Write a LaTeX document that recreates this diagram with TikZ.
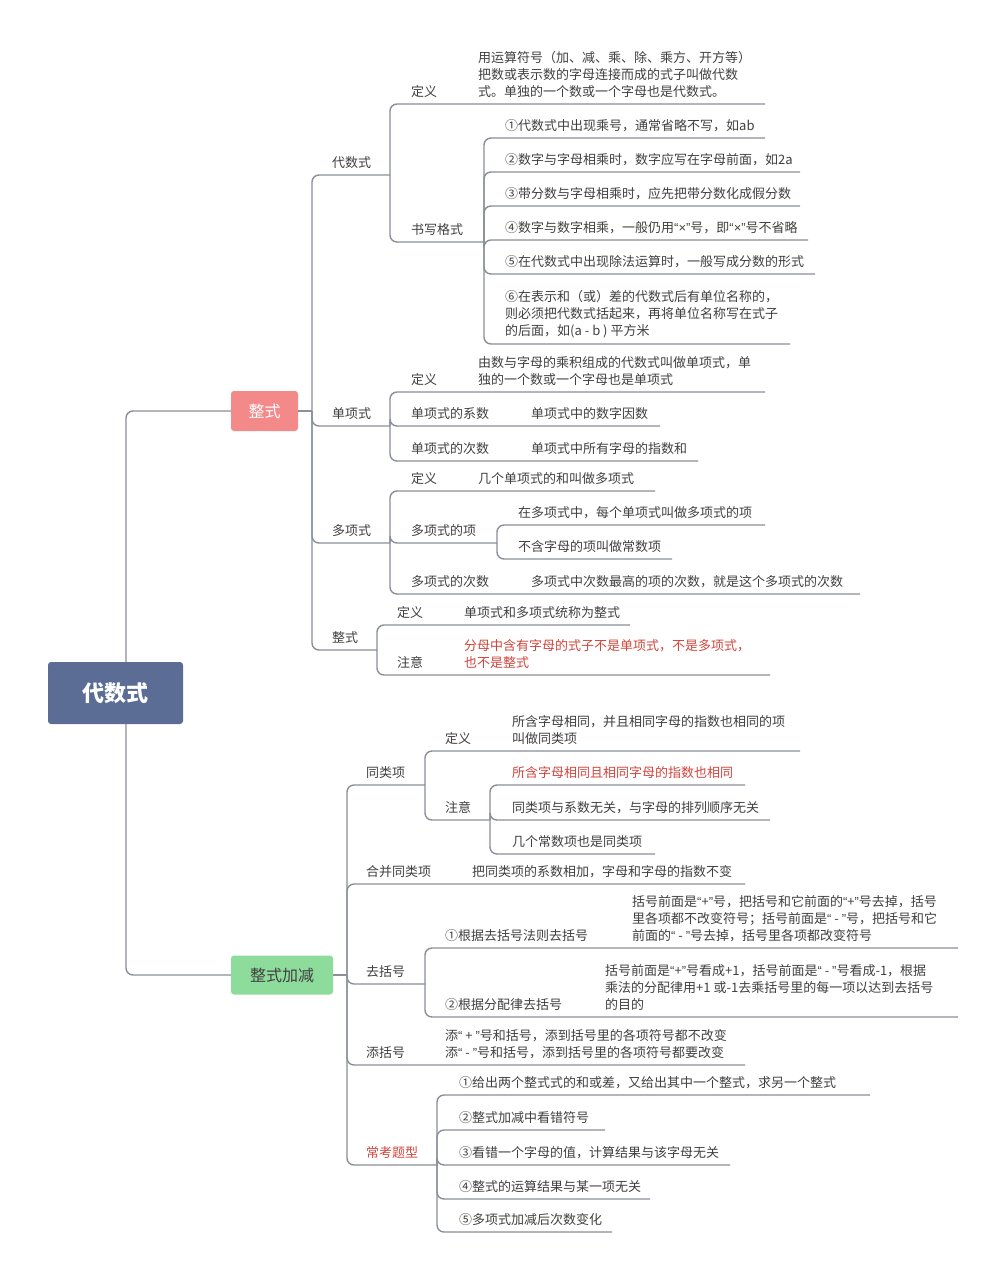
\documentclass[tikz,border=0pt]{standalone}
\usepackage{fontspec}
\setmainfont{Noto Sans CJK SC}
\newfontfamily\latfont{Liberation Sans}
\definecolor{linegray}{HTML}{8A8F99}
\definecolor{txtgray}{HTML}{404040}
\definecolor{redtxt}{HTML}{D0463C}
\definecolor{rootblue}{HTML}{5B6D95}
\definecolor{zsred}{HTML}{F4898A}
\definecolor{zsgreen}{HTML}{8EDC9B}
\newcommand\br[4]{\draw[link] (#1,#2) |- (#4,#3);}
\newcommand\oq{{\latfont “}}
\newcommand\cq{{\latfont ”}}
\begin{document}
\begin{tikzpicture}[x=1pt,y=-1pt]
\tikzset{
  link/.style={draw=linegray,line width=1.4pt,rounded corners=7pt},
  lbl/.style={anchor=south west,inner sep=0pt,yshift=6pt,align=left,
    text=txtgray,font=\fontsize{13}{17}\selectfont},
  redlbl/.style={lbl,text=redtxt},
  box/.style={rounded corners=3pt,inner sep=0pt}
}
\useasboundingbox[fill=white] (0,0) rectangle (1005,1280);
% main boxes
\node[box,fill=rootblue,minimum width=135pt,minimum height=62pt,text=white,
  font=\fontsize{22}{24}\selectfont\bfseries] (root) at (115.5,693) {代数式};
\node[box,fill=zsred,minimum width=67pt,minimum height=40pt,text=white,
  font=\fontsize{16}{18}\selectfont] (zs) at (264.5,411) {整式};
\node[box,fill=zsgreen,minimum width=102pt,minimum height=39pt,text=txtgray,
  font=\fontsize{16}{18}\selectfont] (zsjj) at (282,975) {整式加减};
\draw[link] (126,662) |- (zs.west);
\draw[link] (126,724) |- (zsjj.west);

% 整式
\draw[link] (zs.east) -- (312,411);
\br{312}{411}{175}{390}
\br{312}{411}{426}{390}
\br{312}{411}{543}{390}
\br{312}{411}{650}{377}
\node[lbl] (dsx) at (332,175) {代数式};
\br{390}{175}{104}{765}
\br{390}{175}{242}{484}
\node[lbl] (dsxDef) at (411,104) {定义};
\node[lbl] (dsxDefT) at (478,104) {用运算符号（加、减、乘、除、乘方、开方等）\\把数或表示数的字母连接而成的式子叫做代数\\式。单独的一个数或一个字母也是代数式。};
\node[lbl] (sxgs) at (411,242) {书写格式};
\br{484}{242}{138}{765}
\br{484}{242}{172}{800}
\br{484}{242}{206}{800}
\br{484}{242}{240}{808}
\br{484}{242}{274}{815}
\br{484}{242}{344}{790}
\node[lbl] (gs1) at (505,138) {①代数式中出现乘号，通常省略不写，如ab};
\node[lbl] (gs2) at (505,172) {②数字与字母相乘时，数字应写在字母前面，如2a};
\node[lbl] (gs3) at (505,206) {③带分数与字母相乘时，应先把带分数化成假分数};
\node[lbl] (gs4) at (505,240) {④数字与数字相乘，一般仍用\oq{\latfont ×}\cq 号，即\oq{\latfont ×}\cq 号不省略};
\node[lbl] (gs5) at (505,274) {⑤在代数式中出现除法运算时，一般写成分数的形式};
\node[lbl] (gs6) at (505,344) {⑥在表示和（或）差的代数式后有单位名称的，\\则必须把代数式括起来，再将单位名称写在式子\\的后面，如(a - b ) 平方米};

\node[lbl] (dxs) at (332,426) {单项式};
\br{390}{426}{392}{765}
\br{390}{426}{426}{660}
\br{390}{426}{461}{698}
\node[lbl] (dxsDef) at (411,392) {定义};
\node[lbl] (dxsDefT) at (478,392) {由数与字母的乘积组成的代数式叫做单项式，单\\独的一个数或一个字母也是单项式};
\node[lbl] (dxsXs) at (411,426) {单项式的系数};
\node[lbl] (dxsXsT) at (531,426) {单项式中的数字因数};
\node[lbl] (dxsCs) at (411,461) {单项式的次数};
\node[lbl] (dxsCsT) at (531,461) {单项式中所有字母的指数和};

\node[lbl] (dxs2) at (332,543) {多项式};
\br{390}{543}{491}{655}
\br{390}{543}{543}{497}
\br{390}{543}{594}{860}
\node[lbl] (dxs2Def) at (411,491) {定义};
\node[lbl] (dxs2DefT) at (478,491) {几个单项式的和叫做多项式};
\node[lbl] (dxs2X) at (411,543) {多项式的项};
\br{497}{543}{525}{765}
\br{497}{543}{559}{672}
\node[lbl] (dxs2X1) at (518,525) {在多项式中，每个单项式叫做多项式的项};
\node[lbl] (dxs2X2) at (518,559) {不含字母的项叫做常数项};
\node[lbl] (dxs2Cs) at (411,594) {多项式的次数};
\node[lbl] (dxs2CsT) at (531,594) {多项式中次数最高的项的次数，就是这个多项式的次数};

\node[lbl] (zsLeaf) at (332,650) {整式};
\br{377}{650}{625}{630}
\br{377}{650}{675}{770}
\node[lbl] (zsDef) at (397,625) {定义};
\node[lbl] (zsDefT) at (464,625) {单项式和多项式统称为整式};
\node[lbl] (zsZy) at (397,675) {注意};
\node[redlbl] (zsZyT) at (464,675) {分母中含有字母的式子不是单项式，不是多项式，\\也不是整式};

% 整式加减
\draw[link] (zsjj.east) -- (347,975);
\br{347}{975}{785}{425}
\br{347}{975}{884}{745}
\br{347}{975}{984}{425}
\br{347}{975}{1065}{745}
\br{347}{975}{1165}{437}
\node[lbl] (tlx) at (366,785) {同类项};
\br{425}{785}{751}{800}
\br{425}{785}{820}{490}
\node[lbl] (tlxDef) at (445,751) {定义};
\node[lbl] (tlxDefT) at (512,751) {所含字母相同，并且相同字母的指数也相同的项\\叫做同类项};
\node[lbl] (tlxZy) at (445,820) {注意};
\br{490}{820}{785}{745}
\br{490}{820}{820}{770}
\br{490}{820}{854}{655}
\node[redlbl] (tlxZy1) at (512,785) {所含字母相同且相同字母的指数也相同};
\node[lbl] (tlxZy2) at (512,820) {同类项与系数无关，与字母的排列顺序无关};
\node[lbl] (tlxZy3) at (512,854) {几个常数项也是同类项};
\node[lbl] (hb) at (366,884) {合并同类项};
\node[lbl] (hbT) at (472,884) {把同类项的系数相加，字母和字母的指数不变};
\node[lbl] (qkh) at (366,984) {去括号};
\br{425}{984}{948}{958}
\br{425}{984}{1017}{958}
\node[lbl] (qkh1) at (445,948) {①根据去括号法则去括号};
\node[lbl] (qkh1T) at (632,948) {括号前面是\oq+\cq 号，把括号和它前面的\oq+\cq 号去掉，括号\\里各项都不改变符号；括号前面是\oq\ - \cq 号，把括号和它\\前面的\oq\ - \cq 号去掉，括号里各项都改变符号};
\node[lbl] (qkh2) at (445,1017) {②根据分配律去括号};
\node[lbl] (qkh2T) at (605,1017) {括号前面是\oq+\cq 号看成+1，括号前面是\oq\ - \cq 号看成-1，根据\\乘法的分配律用+1 或-1去乘括号里的每一项以达到去括号\\的目的};
\node[lbl] (tkh) at (366,1065) {添括号};
\node[lbl] (tkhT) at (445,1065) {添\oq\ + \cq 号和括号，添到括号里的各项符号都不改变\\添\oq\ - \cq 号和括号，添到括号里的各项符号都要改变};
\node[redlbl] (ckt) at (366,1165) {常考题型};
\br{437}{1165}{1095}{870}
\br{437}{1165}{1130}{605}
\br{437}{1165}{1165}{730}
\br{437}{1165}{1199}{650}
\br{437}{1165}{1232}{612}
\node[lbl] (ckt1) at (459,1095) {①给出两个整式式的和或差，又给出其中一个整式，求另一个整式};
\node[lbl] (ckt2) at (459,1130) {②整式加减中看错符号};
\node[lbl] (ckt3) at (459,1165) {③看错一个字母的值，计算结果与该字母无关};
\node[lbl] (ckt4) at (459,1199) {④整式的运算结果与某一项无关};
\node[lbl] (ckt5) at (459,1232) {⑤多项式加减后次数变化};
\end{tikzpicture}
\end{document}
